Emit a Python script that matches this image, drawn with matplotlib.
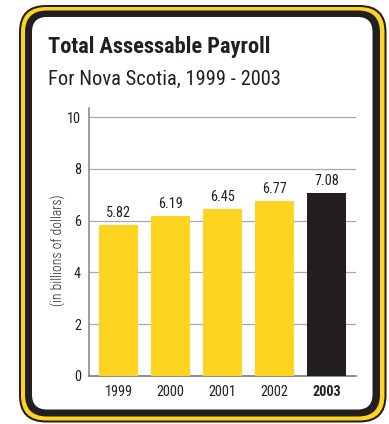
import matplotlib
matplotlib.use("Agg")
import matplotlib.pyplot as plt
from matplotlib.patches import FancyBboxPatch

FONT = ['Roboto Condensed', 'DejaVu Sans']
plt.rcParams['font.family'] = FONT

years = ["1999", "2000", "2001", "2002", "2003"]
payroll = [5.82, 6.19, 6.45, 6.77, 7.08]
yticks = [0, 2, 4, 6, 8, 10]

YELLOW = "#FDD41F"
BLACK = "#231F20"
GRID = "#A7A9AC"

W, H = 389, 424
fig = plt.figure(figsize=(W / 100, H / 100), dpi=100)

# Frame: pixel-space axes covering the whole figure
frame = fig.add_axes([0, 0, 1, 1])
frame.set_xlim(0, W)
frame.set_ylim(H, 0)
frame.axis("off")

def rounded(x0, y0, x1, y1, r, color):
    frame.add_patch(FancyBboxPatch((x0 + r, y0 + r), (x1 - x0) - 2 * r, (y1 - y0) - 2 * r,
                                   boxstyle=f"round,pad={r}", fc=color, ec="none"))

rounded(19, 5, 386.5, 422.5, 27, BLACK)
rounded(21, 7, 384.5, 420.5, 25, YELLOW)
rounded(25, 10.5, 380, 416.5, 22, BLACK)
rounded(32, 17, 372.5, 409.5, 15, "white")

fig.text(48 / W, 1 - 53 / H, "Total Assessable Payroll", fontsize=16.1, fontweight="bold",
         color=BLACK, ha="left", va="baseline")
fig.text(48 / W, 1 - 85 / H, "For Nova Scotia, 1999 - 2003", fontsize=14.8, fontweight="normal",
         color=BLACK, ha="left", va="baseline")
fig.text(58 / W, 1 - 250.5 / H, "(in billions of dollars)", fontsize=9.8, rotation=90,
         fontweight="light", color=BLACK, ha="center", va="center")

# Chart area
left, right = 89.3, 356
y0px, ppu = 375.7, 25.85
ytop = 10.35
ax = fig.add_axes([left / W, 1 - y0px / H, (right - left) / W, ytop * ppu / H])
ax.set_facecolor("none")

xs = list(range(len(years)))
colors = [YELLOW] * (len(years) - 1) + [BLACK]
ax.bar(xs, payroll, width=0.75, color=colors, zorder=3)

for x, v in zip(xs, payroll):
    ax.text(x, v + 0.2, f"{v:.2f}", ha="center", va="bottom", fontsize=10.3, color=BLACK, zorder=4)

ax.set_xlim(-0.56, 4.57)
ax.set_ylim(0, ytop)
ax.set_yticks(yticks)
ax.set_yticklabels([str(t) for t in yticks])
ax.set_xticks(xs)
ax.set_xticklabels(years)
ax.tick_params(length=0, labelsize=10.3, labelcolor=BLACK)
ax.tick_params(axis="x", pad=7)
ax.tick_params(axis="y", pad=6)
ax.get_xticklabels()[-1].set_fontweight("bold")

for t in yticks[1:]:
    ax.axhline(t, color=GRID, lw=0.9, zorder=1)

for s in ["top", "right"]:
    ax.spines[s].set_visible(False)
ax.spines["left"].set_color("#808285")
ax.spines["left"].set_linewidth(1.1)
ax.spines["bottom"].set_color("#6D6E71")
ax.spines["bottom"].set_linewidth(1.1)

fig.savefig("out.png", dpi=100)
